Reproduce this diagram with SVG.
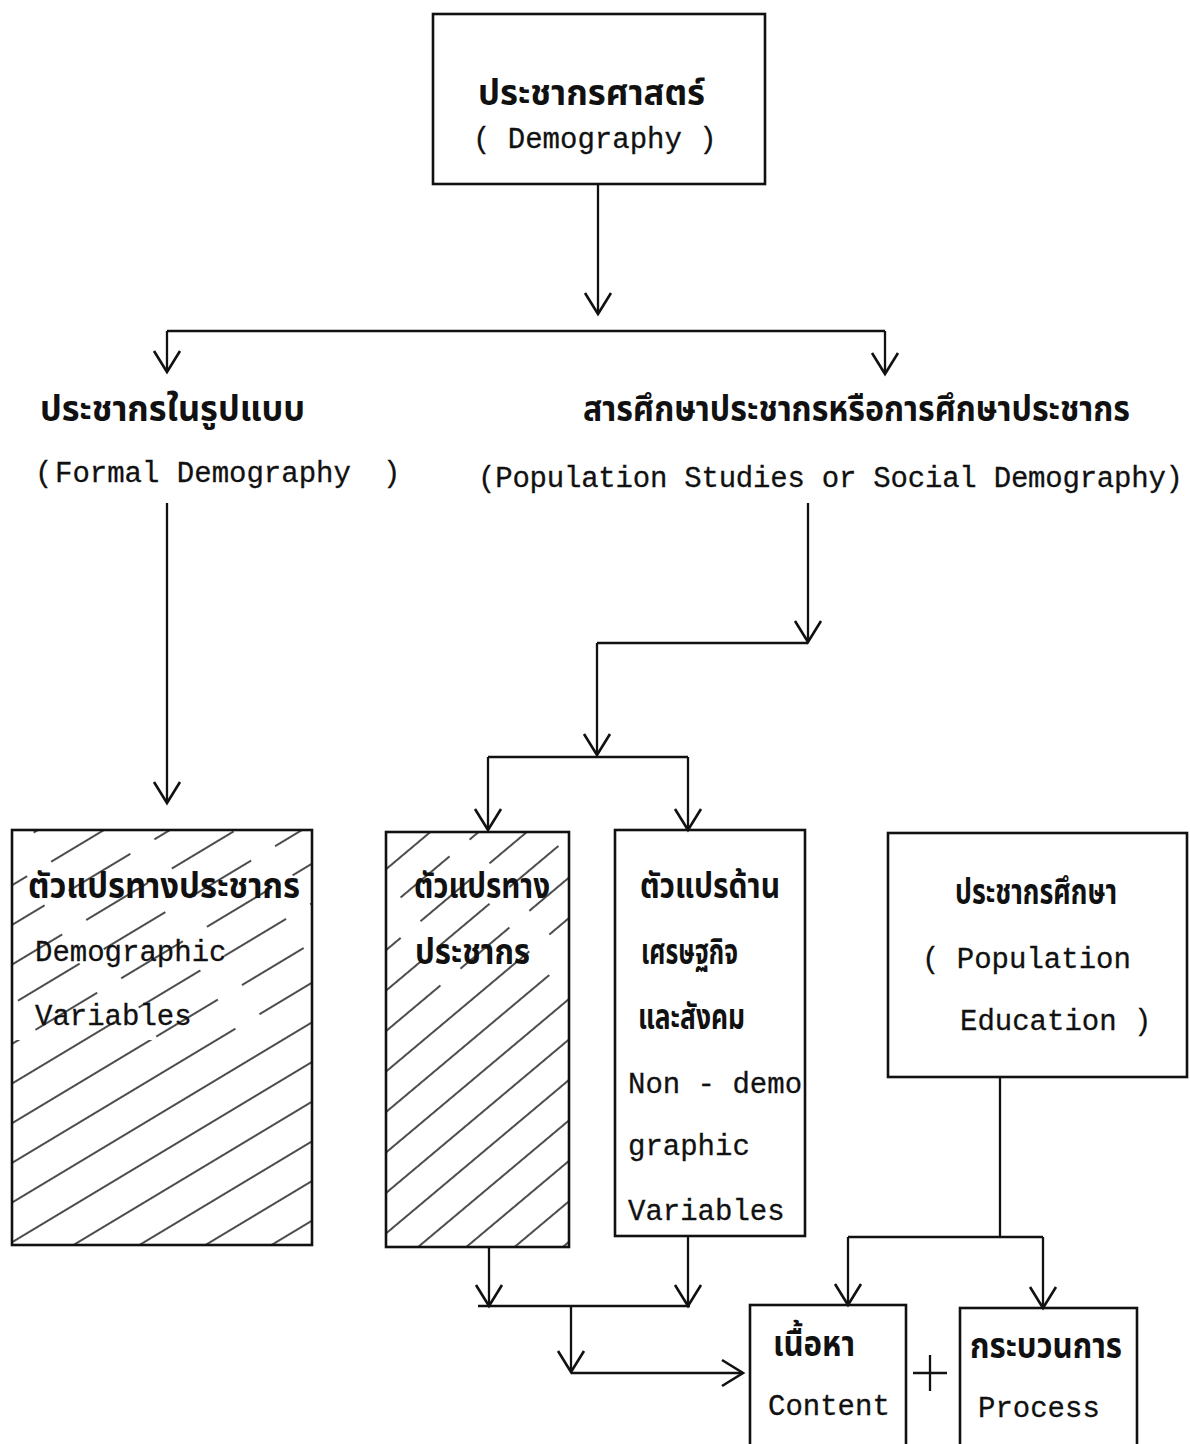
<svg xmlns="http://www.w3.org/2000/svg" width="1190" height="1444" viewBox="0 0 1190 1444">
<style>
.box{fill:none;stroke:#111;stroke-width:2.6}
.c{fill:none;stroke:#111;stroke-width:2.3}
.th{font-family:"Noto Sans Thai","Noto Sans Thai UI","Loma","Garuda","Norasi","DejaVu Sans",sans-serif;font-weight:bold;font-size:35px;fill:#111}
.en{font-family:"Liberation Mono","Courier New",monospace;font-size:29px;fill:#111;stroke:#111;stroke-width:0.3}
.hatch{stroke:#111;stroke-width:1.6}
</style>
<defs>
<marker id="v" viewBox="-2 -16 27 32" refX="22" refY="0" markerWidth="27" markerHeight="32" markerUnits="userSpaceOnUse" orient="auto">
<path d="M1,-13 L22,0 L1,13" fill="none" stroke="#111" stroke-width="2.6"/>
</marker>
<pattern id="hA" patternUnits="userSpaceOnUse" width="400" height="34" patternTransform="rotate(-31)">
<line class="hatch" x1="0" y1="17" x2="400" y2="17"/>
</pattern>
<pattern id="hAd" patternUnits="userSpaceOnUse" width="100" height="34" patternTransform="rotate(-31)">
<line class="hatch" x1="0" y1="17" x2="72" y2="17"/>
</pattern>
<pattern id="hB" patternUnits="userSpaceOnUse" width="400" height="31" patternTransform="rotate(-40)">
<line class="hatch" x1="0" y1="15" x2="400" y2="15"/>
</pattern>
<pattern id="hBd" patternUnits="userSpaceOnUse" width="90" height="31" patternTransform="rotate(-40)">
<line class="hatch" x1="0" y1="15" x2="64" y2="15"/>
</pattern>
</defs>

<g id="demography">
<rect class="box" x="433" y="14" width="332" height="170"/>
<text class="th" x="478" y="105" textLength="227" lengthAdjust="spacingAndGlyphs">ประชากรศาสตร์</text>
<text class="en" x="473" y="148">( Demography )</text>
</g>

<g id="formal">
<text class="th" x="40" y="421" textLength="265" lengthAdjust="spacingAndGlyphs">ประชากรในรูปแบบ</text>
<text class="en" y="482"><tspan x="35">(</tspan><tspan x="55">Formal Demography</tspan><tspan x="383">)</tspan></text>
</g>

<g id="social">
<text class="th" x="583" y="421" textLength="547" lengthAdjust="spacingAndGlyphs">สารศึกษาประชากรหรือการศึกษาประชากร</text>
<text class="en" x="478" y="487" textLength="705" lengthAdjust="spacing">(Population Studies or Social Demography)</text>
</g>

<g id="demvarA">
<rect x="12" y="830" width="300" height="210" fill="url(#hAd)"/>
<rect x="12" y="1040" width="300" height="205" fill="url(#hA)"/>
<rect class="box" x="12" y="830" width="300" height="415"/>
<text class="th" x="28" y="898" textLength="272" lengthAdjust="spacingAndGlyphs">ตัวแปรทางประชากร</text>
<text class="en" x="35" y="961">Demographic</text>
<text class="en" x="35" y="1025">Variables</text>
</g>

<g id="demvarB">
<rect x="386" y="832" width="183" height="160" fill="url(#hBd)"/>
<rect x="386" y="992" width="183" height="255" fill="url(#hB)"/>
<rect class="box" x="386" y="832" width="183" height="415"/>
<text class="th" x="414" y="898" textLength="136" lengthAdjust="spacingAndGlyphs">ตัวแปรทาง</text>
<text class="th" x="415" y="964" textLength="115" lengthAdjust="spacingAndGlyphs">ประชากร</text>
</g>

<g id="nondemvar">
<rect class="box" x="615" y="830" width="190" height="406"/>
<text class="th" x="640" y="898" textLength="140" lengthAdjust="spacingAndGlyphs">ตัวแปรด้าน</text>
<text class="th" x="641" y="964" textLength="97" lengthAdjust="spacingAndGlyphs">เศรษฐกิจ</text>
<text class="th" x="638" y="1029" textLength="107" lengthAdjust="spacingAndGlyphs">และสังคม</text>
<text class="en" x="628" y="1093">Non - demo</text>
<text class="en" x="628" y="1155">graphic</text>
<text class="en" x="628" y="1220">Variables</text>
</g>

<g id="popedu">
<rect class="box" x="888" y="833" width="299" height="244"/>
<text class="th" x="955" y="904" textLength="162" lengthAdjust="spacingAndGlyphs">ประชากรศึกษา</text>
<text class="en" x="922" y="968">( Population</text>
<text class="en" x="960" y="1030">Education )</text>
</g>

<g id="content">
<rect class="box" x="750" y="1305" width="156" height="145"/>
<text class="th" x="773" y="1356" textLength="82" lengthAdjust="spacingAndGlyphs">เนื้อหา</text>
<text class="en" x="768" y="1415">Content</text>
</g>

<g id="plus">
<line class="c" x1="913" y1="1373" x2="947" y2="1373"/>
<line class="c" x1="930" y1="1355" x2="930" y2="1391"/>
</g>

<g id="process">
<rect class="box" x="960" y="1308" width="177" height="142"/>
<text class="th" x="970" y="1358" textLength="152" lengthAdjust="spacingAndGlyphs">กระบวนการ</text>
<text class="en" x="978" y="1417">Process</text>
</g>

<g id="connectors">
<line class="c" x1="598" y1="184" x2="598" y2="314" marker-end="url(#v)"/>
<line class="c" x1="167" y1="331" x2="885" y2="331"/>
<line class="c" x1="167" y1="331" x2="167" y2="372" marker-end="url(#v)"/>
<line class="c" x1="885" y1="331" x2="885" y2="374" marker-end="url(#v)"/>
<line class="c" x1="167" y1="503" x2="167" y2="803" marker-end="url(#v)"/>
<line class="c" x1="808" y1="503" x2="808" y2="642" marker-end="url(#v)"/>
<line class="c" x1="597" y1="643" x2="808" y2="643"/>
<line class="c" x1="597" y1="643" x2="597" y2="755" marker-end="url(#v)"/>
<line class="c" x1="488" y1="757" x2="688" y2="757"/>
<line class="c" x1="488" y1="757" x2="488" y2="830" marker-end="url(#v)"/>
<line class="c" x1="688" y1="757" x2="688" y2="830" marker-end="url(#v)"/>
<line class="c" x1="489" y1="1247" x2="489" y2="1306" marker-end="url(#v)"/>
<line class="c" x1="688" y1="1236" x2="688" y2="1306" marker-end="url(#v)"/>
<line class="c" x1="478" y1="1306" x2="690" y2="1306"/>
<line class="c" x1="571" y1="1306" x2="571" y2="1372" marker-end="url(#v)"/>
<line class="c" x1="571" y1="1373" x2="743" y2="1373" marker-end="url(#v)"/>
<line class="c" x1="1000" y1="1077" x2="1000" y2="1237"/>
<line class="c" x1="848" y1="1237" x2="1043" y2="1237"/>
<line class="c" x1="848" y1="1237" x2="848" y2="1305" marker-end="url(#v)"/>
<line class="c" x1="1043" y1="1237" x2="1043" y2="1308" marker-end="url(#v)"/>
</g>
</svg>
